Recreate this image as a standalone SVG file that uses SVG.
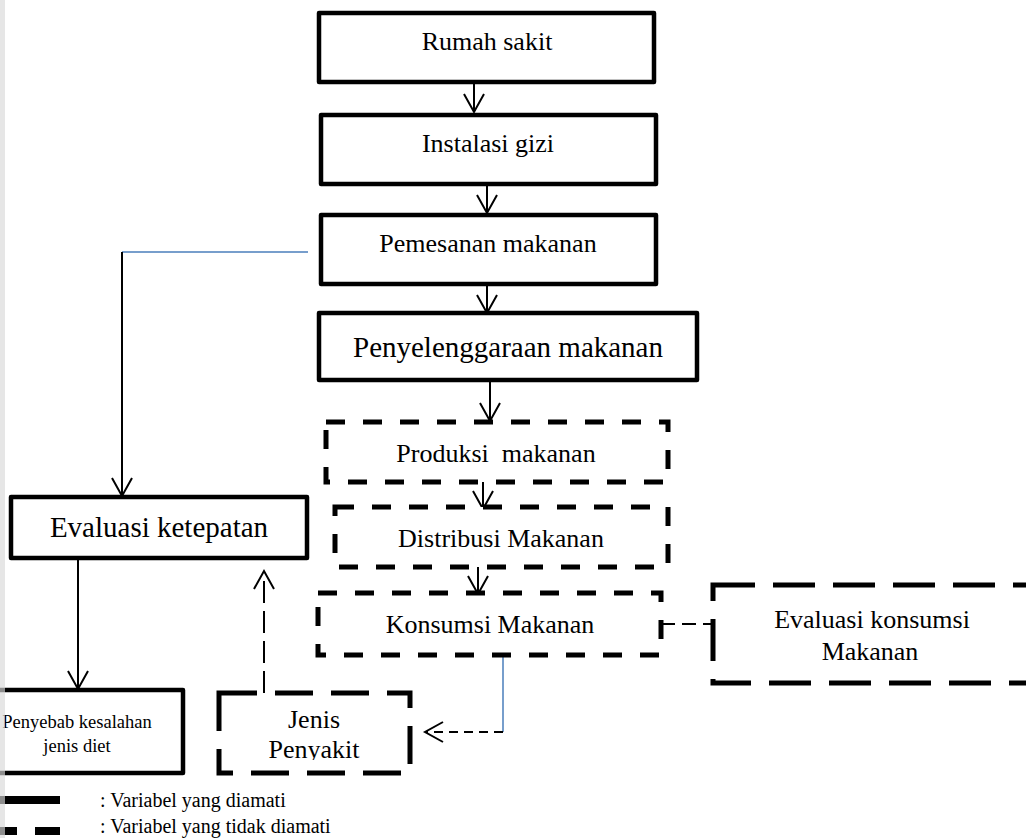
<svg xmlns="http://www.w3.org/2000/svg" width="1026" height="838" viewBox="0 0 1026 838">
<style>
text{font-family:"Liberation Serif","Times New Roman",serif;fill:#000;text-anchor:middle}
.solid{fill:#fff;stroke:#000;stroke-width:4.5;stroke-linejoin:round}
.dash{fill:#fff;stroke:#000;stroke-width:5;stroke-dasharray:19 18}
.dashL{fill:#fff;stroke:#000;stroke-width:5;stroke-dasharray:42 18}
.dashJ{fill:#fff;stroke:#000;stroke-width:5;stroke-dasharray:38 18}
.conn{fill:none;stroke:#000;stroke-width:2}
.blue{fill:none;stroke:#4a7ebb;stroke-width:1.5}
.f26{font-size:26px}
.f29{font-size:29px}
</style>
<defs>
<marker id="arr" markerUnits="userSpaceOnUse" viewBox="-20 -12 22 24" markerWidth="22" markerHeight="24" refX="0" refY="0" orient="auto" overflow="visible">
<path d="M-18,-10 L0,0 L-18,10" fill="none" stroke="#000" stroke-width="2"/>
</marker>
<clipPath id="clipJ"><rect x="219" y="693" width="191" height="67"/></clipPath>
</defs>
<rect width="1026" height="838" fill="#fff"/>

<g id="connectors">
<line class="conn" x1="474" y1="82" x2="474" y2="112" marker-end="url(#arr)"/>
<line class="conn" x1="487" y1="184" x2="487" y2="213" marker-end="url(#arr)"/>
<line class="conn" x1="487" y1="284" x2="487" y2="313" marker-end="url(#arr)"/>
<line class="conn" x1="490" y1="380" x2="490" y2="421" marker-end="url(#arr)"/>
<line class="conn" x1="483" y1="482" x2="483" y2="509" marker-end="url(#arr)"/>
<line class="conn" x1="478" y1="567" x2="478" y2="594" marker-end="url(#arr)"/>
<line class="blue" x1="308" y1="252" x2="122" y2="252"/>
<line class="conn" x1="122" y1="252" x2="122" y2="496" marker-end="url(#arr)"/>
<line class="conn" x1="78" y1="558" x2="78" y2="689" marker-end="url(#arr)"/>
<line class="conn" x1="264" y1="693" x2="264" y2="571" stroke-dasharray="22 8" marker-end="url(#arr)"/>
<line class="blue" x1="503" y1="655" x2="503" y2="732"/>
<line class="conn" x1="503" y1="732" x2="425" y2="732" stroke-dasharray="9 6" marker-end="url(#arr)"/>
<line class="conn" x1="661" y1="624" x2="713" y2="624" stroke-dasharray="14 7"/>
</g>

<g id="rumah-sakit"><rect class="solid" x="319" y="13" width="335" height="69"/><text class="f26" x="487" y="50">Rumah sakit</text></g>
<g id="instalasi-gizi"><rect class="solid" x="321" y="115" width="335" height="69"/><text class="f26" x="488" y="152">Instalasi gizi</text></g>
<g id="pemesanan-makanan"><rect class="solid" x="321" y="215" width="335" height="69"/><text class="f26" x="488" y="252">Pemesanan makanan</text></g>
<g id="penyelenggaraan-makanan"><rect class="solid" x="319" y="313" width="378" height="67"/><text class="f29" x="508" y="357">Penyelenggaraan makanan</text></g>
<g id="produksi-makanan"><rect class="dash" x="326" y="422" width="342" height="60"/><text class="f26" x="496" y="462" xml:space="preserve">Produksi  makanan</text></g>
<g id="distribusi-makanan"><rect class="dash" x="335" y="507" width="333" height="60"/><text class="f26" x="501" y="547">Distribusi Makanan</text></g>
<g id="konsumsi-makanan"><rect class="dash" x="318" y="593" width="343" height="62"/><text class="f26" x="490" y="633">Konsumsi Makanan</text></g>
<g id="evaluasi-konsumsi"><rect class="dashL" x="713" y="585" width="330" height="98"/><text class="f26" x="872" y="628">Evaluasi konsumsi</text><text class="f26" x="870" y="660">Makanan</text></g>
<g id="evaluasi-ketepatan"><rect class="solid" x="11" y="497" width="296" height="61"/><text class="f29" x="159" y="537">Evaluasi ketepatan</text></g>
<g id="penyebab"><rect class="solid" x="-10" y="690" width="193" height="83"/><text x="77" y="728" font-size="18.5">Penyebab kesalahan</text><text x="77" y="752" font-size="18.5">jenis diet</text></g>
<g id="jenis-penyakit"><rect class="dashJ" x="219" y="693" width="191" height="80"/><g clip-path="url(#clipJ)"><text class="f26" x="314" y="728">Jenis</text><text class="f26" x="314" y="758">Penyakit</text></g></g>

<g id="legend">
<rect x="0" y="796" width="60" height="8" fill="#000"/>
<rect x="0" y="827" width="17" height="8" fill="#000"/>
<rect x="35" y="827" width="25" height="8" fill="#000"/>
<text x="100" y="807" font-size="20" style="text-anchor:start">: Variabel yang diamati</text>
<text x="100" y="833" font-size="20" style="text-anchor:start">: Variabel yang tidak diamati</text>
</g>
<rect x="0" y="0" width="5" height="838" fill="#d8d8d8" opacity="0.65"/>
</svg>
